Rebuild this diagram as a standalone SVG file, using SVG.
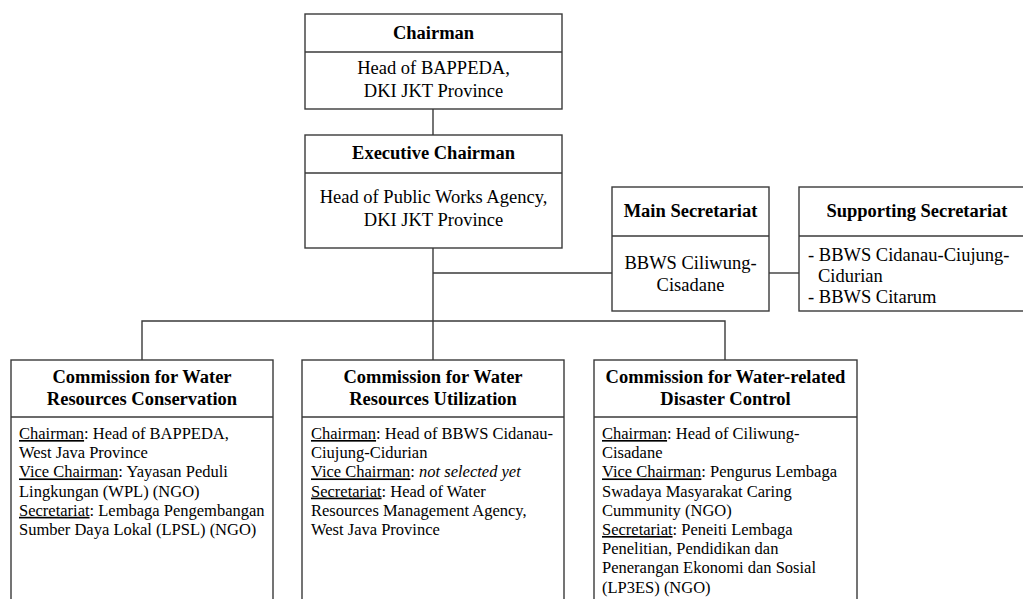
<svg xmlns="http://www.w3.org/2000/svg" width="1023" height="599" viewBox="0 0 1023 599">
<style>
  .box { fill: #ffffff; stroke: #3a3a3a; stroke-width: 1.4; }
  .div { stroke: #3a3a3a; stroke-width: 1.4; }
  .conn { fill: none; stroke: #3a3a3a; stroke-width: 1.4; }
  .ttl { font-family: "Liberation Serif", "Times New Roman", serif; font-weight: bold; font-size: 18.5px; fill: #000; text-anchor: middle; }
  .top { font-family: "Liberation Serif", "Times New Roman", serif; font-size: 18.5px; fill: #000; text-anchor: middle; }
  .lft { font-family: "Liberation Serif", "Times New Roman", serif; font-size: 18.5px; fill: #000; text-anchor: start; }
  .body { font-family: "Liberation Serif", "Times New Roman", serif; font-size: 16.5px; fill: #000; }
  .u { text-decoration: underline; }
  .it { font-style: italic; }
</style>
<rect width="1023" height="599" fill="#ffffff"/>
<g id="connectors">
  <line class="conn" x1="433" y1="109" x2="433" y2="135"/>
  <line class="conn" x1="433" y1="248" x2="433" y2="360"/>
  <line class="conn" x1="433" y1="273" x2="612" y2="273"/>
  <line class="conn" x1="769" y1="273" x2="799" y2="273"/>
  <polyline class="conn" points="142,360 142,321 725,321 725,360"/>
</g>
<g id="chairman">
  <rect class="box" x="305" y="14" width="257" height="95"/>
  <line class="div" x1="305" y1="52" x2="562" y2="52"/>
  <text class="ttl" x="433.5" y="39">Chairman</text>
  <text class="top" x="433.5" y="74">Head of BAPPEDA,</text>
  <text class="top" x="433.5" y="97">DKI JKT Province</text>
</g>
<g id="executive-chairman">
  <rect class="box" x="305" y="135" width="257" height="113"/>
  <line class="div" x1="305" y1="173" x2="562" y2="173"/>
  <text class="ttl" x="433.5" y="159">Executive Chairman</text>
  <text class="top" x="433.5" y="203">Head of Public Works Agency,</text>
  <text class="top" x="433.5" y="226">DKI JKT Province</text>
</g>
<g id="main-secretariat">
  <rect class="box" x="612" y="187" width="157" height="124"/>
  <line class="div" x1="612" y1="236" x2="769" y2="236"/>
  <text class="ttl" x="690.5" y="217">Main Secretariat</text>
  <text class="top" x="690.5" y="269">BBWS Ciliwung-</text>
  <text class="top" x="690.5" y="291">Cisadane</text>
</g>
<g id="supporting-secretariat">
  <rect class="box" x="799" y="187" width="240" height="124"/>
  <line class="div" x1="799" y1="236" x2="1039" y2="236"/>
  <text class="ttl" x="917" y="217">Supporting Secretariat</text>
  <text class="lft" x="808" y="261">- BBWS Cidanau-Ciujung-</text>
  <text class="lft" x="818" y="282">Cidurian</text>
  <text class="lft" x="808" y="303">- BBWS Citarum</text>
</g>
<g id="commission-conservation">
  <rect class="box" x="11" y="360" width="262" height="260"/>
  <line class="div" x1="11" y1="417" x2="273" y2="417"/>
  <text class="ttl" x="142" y="383">Commission for Water</text>
  <text class="ttl" x="142" y="405">Resources Conservation</text>
  <text class="body" x="19" y="439"><tspan class="u">Chairman</tspan>: Head of BAPPEDA,</text>
  <text class="body" x="19" y="458.2">West Java Province</text>
  <text class="body" x="19" y="477.4"><tspan class="u">Vice Chairman</tspan>: Yayasan Peduli</text>
  <text class="body" x="19" y="496.6">Lingkungan (WPL) (NGO)</text>
  <text class="body" x="19" y="515.8"><tspan class="u">Secretariat</tspan>: Lembaga Pengembangan</text>
  <text class="body" x="19" y="535">Sumber Daya Lokal (LPSL) (NGO)</text>
</g>
<g id="commission-utilization">
  <rect class="box" x="302" y="360" width="262" height="260"/>
  <line class="div" x1="302" y1="417" x2="564" y2="417"/>
  <text class="ttl" x="433" y="383">Commission for Water</text>
  <text class="ttl" x="433" y="405">Resources Utilization</text>
  <text class="body" x="311" y="439"><tspan class="u">Chairman</tspan>: Head of BBWS Cidanau-</text>
  <text class="body" x="311" y="458.2">Ciujung-Cidurian</text>
  <text class="body" x="311" y="477.4"><tspan class="u">Vice Chairman</tspan>: <tspan class="it">not selected yet</tspan></text>
  <text class="body" x="311" y="496.6"><tspan class="u">Secretariat</tspan>: Head of Water</text>
  <text class="body" x="311" y="515.8">Resources Management Agency,</text>
  <text class="body" x="311" y="535">West Java Province</text>
</g>
<g id="commission-disaster">
  <rect class="box" x="594" y="360" width="263" height="260"/>
  <line class="div" x1="594" y1="417" x2="857" y2="417"/>
  <text class="ttl" x="725.5" y="383">Commission for Water-related</text>
  <text class="ttl" x="725.5" y="405">Disaster Control</text>
  <text class="body" x="602" y="439"><tspan class="u">Chairman</tspan>: Head of Ciliwung-</text>
  <text class="body" x="602" y="458.2">Cisadane</text>
  <text class="body" x="602" y="477.4"><tspan class="u">Vice Chairman</tspan>: Pengurus Lembaga</text>
  <text class="body" x="602" y="496.6">Swadaya Masyarakat Caring</text>
  <text class="body" x="602" y="515.8">Cummunity (NGO)</text>
  <text class="body" x="602" y="535"><tspan class="u">Secretariat</tspan>: Peneiti Lembaga</text>
  <text class="body" x="602" y="554.2">Penelitian, Pendidikan dan</text>
  <text class="body" x="602" y="573.4">Penerangan Ekonomi dan Sosial</text>
  <text class="body" x="602" y="592.6">(LP3ES) (NGO)</text>
</g>
</svg>
